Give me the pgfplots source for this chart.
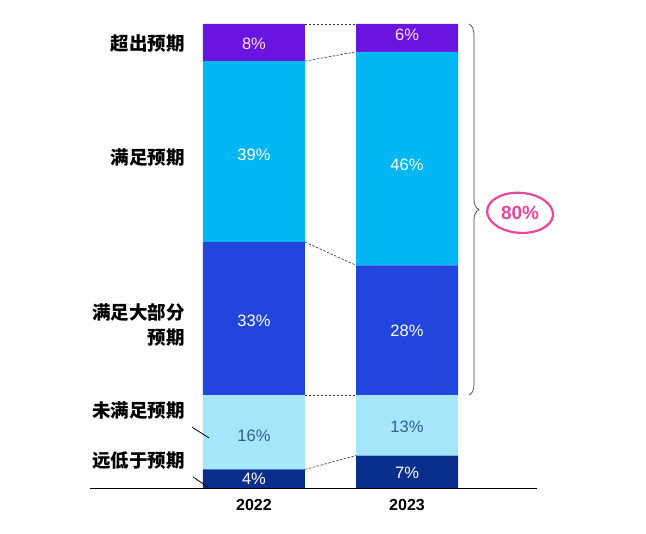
\documentclass[border=0pt]{standalone}
\usepackage{pgfplots}
\pgfplotsset{compat=1.18}
\usepackage{fontspec}
\setmainfont{Liberation Sans}
\newfontfamily\cjk{Noto Sans CJK SC}
\usetikzlibrary{decorations.pathreplacing}
\definecolor{cPurple}{HTML}{6A14E0}
\definecolor{cCyan}{HTML}{00B7F1}
\definecolor{cBlue}{HTML}{2245DD}
\definecolor{cLight}{HTML}{A6E6FB}
\definecolor{cNavy}{HTML}{0A2E8C}
\definecolor{cDarkTxt}{HTML}{2F5F8F}
\definecolor{cPink}{HTML}{E8479A}
\tikzset{
  pct/.style={font=\fontsize{16.5}{16.5}\selectfont, text=white},
  cat/.style={anchor=east, align=right, font=\cjk\bfseries\fontsize{18.5}{25}\selectfont},
  conn/.style={black!80, line width=0.6pt, dash pattern=on 2.5pt off 1.5pt},
}
\begin{document}
\begin{tikzpicture}
\begin{axis}[
  set layers,
  scale only axis, width=646pt, height=533pt,
  xmin=-1.660, xmax=2.562, ymin=-9.70, ymax=105.17,
  hide axis, clip=false,
  ybar stacked, bar width=102pt,
  every axis plot/.append style={on layer=axis background},
]
% 远低于预期, 未满足预期, 满足大部分预期, 满足预期, 超出预期
\addplot[fill=cNavy, draw=none] coordinates {(0,4) (1,7)};
\addplot[fill=cLight, draw=none] coordinates {(0,16) (1,13)};
\addplot[fill=cBlue, draw=none] coordinates {(0,33) (1,28)};
\addplot[fill=cCyan, draw=none] coordinates {(0,39) (1,46)};
\addplot[fill=cPurple, draw=none] coordinates {(0,8) (1,6)};

% baseline
\draw[black, line width=0.9pt] (axis cs:-1.072,0) -- (axis cs:1.850,0);

% connectors between cumulative boundaries
\draw[conn] (axis cs:0.3333,4) -- (axis cs:0.6667,7);
\draw[conn] (axis cs:0.3333,20) -- (axis cs:0.6667,20);
\draw[conn] (axis cs:0.3333,53) -- (axis cs:0.6667,48);
\draw[conn] (axis cs:0.3333,92) -- (axis cs:0.6667,94);
\draw[conn] (axis cs:0.3333,100) -- (axis cs:0.6667,100);

% values in segments
\node[pct] at (axis cs:0,1.9) {4\%};
\node[pct, text=cDarkTxt] at (axis cs:0,11.3) {16\%};
\node[pct] at (axis cs:0,36) {33\%};
\node[pct] at (axis cs:0,71.8) {39\%};
\node[pct, text=white!88!magenta] at (axis cs:0,95.8) {8\%};
\node[pct] at (axis cs:1,3.3) {7\%};
\node[pct, text=cDarkTxt] at (axis cs:1,13.2) {13\%};
\node[pct] at (axis cs:1,33.8) {28\%};
\node[pct] at (axis cs:1,69.6) {46\%};
\node[pct, text=white!88!magenta] at (axis cs:1,97.6) {6\%};

% years
\node[font=\bfseries\fontsize{16}{16}\selectfont] at (axis cs:0,-3.7) {2022};
\node[font=\bfseries\fontsize{16}{16}\selectfont] at (axis cs:1,-3.7) {2023};

% category labels
\node[cat] at (axis cs:-0.431,95.7) {超出预期};
\node[cat] at (axis cs:-0.431,71.3) {满足预期};
\node[cat] at (axis cs:-0.431,35.1) {满足大部分\\预期};
\node[cat] at (axis cs:-0.431,16.8) {未满足预期};
\node[cat] at (axis cs:-0.431,6.0) {远低于预期};
\draw[black, line width=0.8pt] (axis cs:-0.405,13.1) -- (axis cs:-0.294,10.8);
\draw[black, line width=0.8pt] (axis cs:-0.399,2.4) -- (axis cs:-0.301,0.2);

% brace and highlight
\draw[black!75, line width=0.7pt, decorate, decoration={brace, amplitude=10pt}] (axis cs:1.405,100) -- (axis cs:1.405,20);
\draw[cPink, line width=2.2pt, rotate around={-4:(axis cs:1.739,59.3)}] (axis cs:1.739,59.3) ellipse [x radius=33pt, y radius=20pt];
\node[text=cPink, font=\bfseries\fontsize{19}{19}\selectfont] at (axis cs:1.739,59.3) {80\%};
\end{axis}
\pgfresetboundingbox
\path[use as bounding box] (current axis.south west) rectangle (current axis.north east);
\end{tikzpicture}
\end{document}
